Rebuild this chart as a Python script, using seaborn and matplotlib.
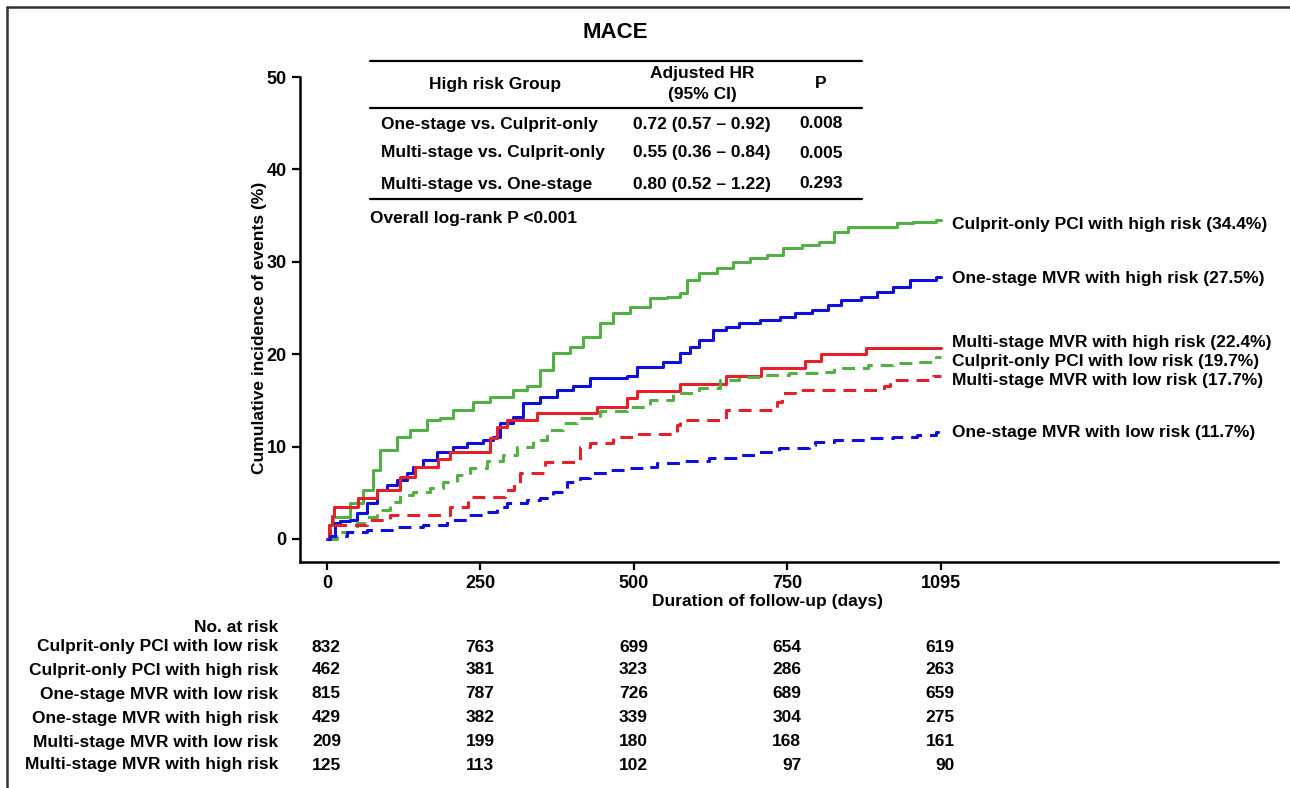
import numpy as np
import pandas as pd
import seaborn as sns
import matplotlib.pyplot as plt
import matplotlib.transforms as mtransforms
from matplotlib.lines import Line2D

# Curves: day of step, cumulative incidence (%) after step
cop_high_days = [0, 5, 10, 37, 59, 75, 86, 114, 135, 163, 184, 205, 238, 265, 303, 326, 347,
                 368, 396, 417, 445, 466, 494, 526, 554, 575, 586, 607, 635, 661, 689, 717,
                 743, 783, 821, 856, 887, 997, 1032, 1085, 1095]
cop_high_pct = [0, 1.5, 2.4, 3.9, 5.3, 7.5, 9.6, 11.0, 11.8, 12.9, 13.1, 14.0, 14.8, 15.4, 16.1,
                16.5, 18.3, 20.1, 20.8, 21.9, 23.4, 24.5, 25.1, 26.1, 26.2, 26.6, 28.0, 28.8,
                29.3, 30.0, 30.4, 30.7, 31.5, 31.8, 32.1, 33.2, 33.8, 34.2, 34.3, 34.5, 34.5]

one_high_days = [0, 5, 13, 21, 37, 49, 65, 81, 98, 114, 130, 140, 156, 179, 205, 228, 254, 270,
                 282, 303, 319, 347, 375, 401, 429, 489, 505, 547, 575, 591, 607, 629, 651, 672,
                 705, 738, 768, 805, 842, 871, 915, 953, 988, 1026, 1085, 1095]
one_high_pct = [0, 0.2, 1.7, 1.9, 2.1, 2.8, 3.9, 5.3, 5.8, 6.4, 7.1, 7.8, 8.5, 9.4, 10.0, 10.4,
                10.7, 11.0, 12.6, 13.2, 14.7, 15.4, 16.1, 16.5, 17.4, 17.6, 18.6, 19.2, 20.1,
                20.8, 21.5, 22.6, 22.9, 23.4, 23.7, 24.0, 24.5, 24.8, 25.3, 25.9, 26.2, 26.7,
                27.3, 28.0, 28.4, 28.4]

multi_high_days = [0, 4, 8, 12, 51, 81, 119, 143, 181, 200, 265, 277, 293, 342, 440, 489, 505,
                   575, 651, 708, 790, 827, 927, 1095]
multi_high_pct = [0, 1.5, 2.5, 3.4, 4.4, 5.3, 6.7, 7.8, 8.7, 9.4, 10.9, 12.1, 12.9, 13.6, 14.3,
                  15.2, 16.0, 16.8, 17.6, 18.5, 19.3, 20.0, 20.7, 20.7]

cop_low_days = [0, 16, 49, 65, 81, 103, 119, 140, 168, 189, 212, 233, 261, 287, 310, 336, 358,
                384, 407, 445, 489, 526, 564, 607, 640, 672, 717, 754, 830, 856, 931, 988, 1041,
                1085, 1095]
cop_low_pct = [0, 0.8, 1.7, 2.4, 3.1, 4.0, 4.7, 5.1, 5.5, 6.2, 6.9, 7.7, 8.4, 9.1, 10.0, 10.7,
               11.8, 12.6, 13.1, 13.8, 14.3, 15.0, 15.8, 16.3, 17.2, 17.5, 17.7, 18.0, 18.1,
               18.5, 18.8, 19.0, 19.2, 19.7, 19.7]

multi_low_days = [0, 5, 10, 65, 103, 200, 230, 290, 305, 314, 355, 412, 429, 466, 505, 570, 575,
                  651, 733, 741, 768, 967, 982, 1077, 1095]
multi_low_pct = [0, 1.3, 1.5, 2.1, 2.6, 3.5, 4.5, 5.3, 6.1, 7.1, 8.3, 10.0, 10.4, 11.0, 11.4,
                 12.3, 12.9, 13.9, 14.8, 15.8, 16.1, 16.5, 17.2, 17.6, 17.6]

one_low_days = [0, 5, 33, 65, 114, 156, 195, 228, 261, 277, 293, 326, 347, 368, 391, 412, 429,
                456, 489, 515, 538, 580, 622, 672, 700, 736, 799, 812, 856, 931, 988, 1041,
                1085, 1095]
one_low_pct = [0, 0.3, 0.7, 1.0, 1.3, 1.5, 2.1, 2.6, 2.9, 3.5, 3.9, 4.2, 4.4, 5.1, 6.2, 6.6, 7.1,
               7.5, 7.7, 7.8, 8.2, 8.4, 8.8, 9.1, 9.4, 9.8, 10.2, 10.5, 10.7, 10.9, 11.0, 11.3,
               11.6, 11.6]

curve_labels = ["Culprit-only PCI with high risk (34.4%)",
                "One-stage MVR with high risk (27.5%)",
                "Multi-stage MVR with high risk (22.4%)",
                "Culprit-only PCI with low risk (19.7%)",
                "Multi-stage MVR with low risk (17.7%)",
                "One-stage MVR with low risk (11.7%)"]
label_y_px = [224, 279, 342, 361, 380, 433]

# HR table
hr_header = ["High risk Group", "Adjusted HR\n(95% CI)", "P"]
hr_rows = ["One-stage vs. Culprit-only", "Multi-stage vs. Culprit-only", "Multi-stage vs. One-stage"]
hr_values = ["0.72 (0.57 \u2013 0.92)", "0.55 (0.36 \u2013 0.84)", "0.80 (0.52 \u2013 1.22)"]
hr_p = ["0.008", "0.005", "0.293"]

# numbers at risk
risk_days = [0, 250, 500, 750, 1095]
risk_groups = ["Culprit-only PCI with low risk", "Culprit-only PCI with high risk",
               "One-stage MVR with low risk", "One-stage MVR with high risk",
               "Multi-stage MVR with low risk", "Multi-stage MVR with high risk"]
risk_counts = [[832, 763, 699, 654, 619],
               [462, 381, 323, 286, 263],
               [815, 787, 726, 689, 659],
               [429, 382, 339, 304, 275],
               [209, 199, 180, 168, 161],
               [125, 113, 102, 97, 90]]

W, H = 1290, 788

sns.set_style("ticks")
plt.rcParams['font.family'] = ['Liberation Sans', 'DejaVu Sans']
plt.rcParams['font.weight'] = 'bold'
plt.rcParams['axes.labelweight'] = 'bold'
for key in ['text.color', 'axes.labelcolor', 'xtick.color', 'ytick.color', 'axes.edgecolor']:
    plt.rcParams[key] = 'black'

series = [(cop_high_days, cop_high_pct), (one_high_days, one_high_pct),
          (multi_high_days, multi_high_pct), (cop_low_days, cop_low_pct),
          (multi_low_days, multi_low_pct), (one_low_days, one_low_pct)]
frames = []
for name, (d, p) in zip(curve_labels, series):
    frames.append(pd.DataFrame({'day': d, 'pct': p, 'group': name}))
df = pd.concat(frames, ignore_index=True)

green, blue, red = '#52b047', '#0f0fdc', '#e4202a'
palette = dict(zip(curve_labels, [green, blue, red, green, red, blue]))
dash = (4.2, 2.6)
dashes = dict(zip(curve_labels, ['', '', '', dash, dash, dash]))

fig = plt.figure(figsize=(W / 100, H / 100), dpi=100)
ax = fig.add_axes([300 / W, 1 - 562 / H, 978 / W, 485 / H])

sns.lineplot(data=df, x='day', y='pct', hue='group', style='group', hue_order=curve_labels,
             palette=palette, dashes=dashes, drawstyle='steps-post', estimator=None,
             sort=False, legend=False, linewidth=2.2, ax=ax)


# last interval (750-1095 days) is drawn compressed in the original
def fwd(x):
    x = np.asarray(x, dtype=float)
    return np.where(x <= 750, x, 750 + (x - 750) * 250 / 345)


def inv(p):
    p = np.asarray(p, dtype=float)
    return np.where(p <= 750, p, 750 + (p - 750) * 345 / 250)


ax.set_xscale('function', functions=(fwd, inv))
ax.set_xlim(-44, 1854)
ax.set_ylim(-2.5, 50)
ax.set_xticks(risk_days)
ax.set_xticklabels([str(d) for d in risk_days])
ax.set_yticks([0, 10, 20, 30, 40, 50])
ax.tick_params(axis='both', width=1.6, length=6, labelsize=13, color='black')
for s in ['left', 'bottom']:
    ax.spines[s].set_linewidth(1.8)
    ax.spines[s].set_color('black')
ax.spines[['top', 'right']].set_visible(False)

ax.set_xlabel("Duration of follow-up (days)", fontsize=12.5)
ax.xaxis.set_label_coords((768 - 300) / 978, -0.066)
ax.set_ylabel("Cumulative incidence of events (%)", fontsize=12.5)
ax.yaxis.set_label_coords(-0.034, (562 - 328) / 485)


def ftext(x, y, s, **kw):
    kw.setdefault('va', 'center')
    kw.setdefault('fontsize', 12.5)
    fig.text(x / W, 1 - y / H, s, **kw)


def fline(x0, x1, y, lw=1.6):
    fig.add_artist(Line2D([x0 / W, x1 / W], [1 - y / H, 1 - y / H],
                          transform=fig.transFigure, color='black', lw=lw))


ftext(615, 33, "MACE", ha='center', fontsize=16)

# HR table
fline(370, 862, 61)
fline(370, 862, 108)
fline(370, 862, 199)
ftext(495, 84, hr_header[0], ha='center')
ftext(702, 84, hr_header[1], ha='center', linespacing=1.45, multialignment='center')
ftext(821, 84, hr_header[2], ha='center')
for y, r, v, p in zip([124, 153, 184], hr_rows, hr_values, hr_p):
    ftext(381, y, r, ha='left')
    ftext(702, y, v, ha='center')
    ftext(821, y, p, ha='center')
ftext(370, 218, "Overall log-rank P <0.001", ha='left')

# curve labels on the right
for y, lab in zip(label_y_px, curve_labels):
    ftext(952, y, lab, ha='left')

# numbers at risk
ftext(278, 627, "No. at risk", ha='right')
blend = mtransforms.blended_transform_factory(ax.transData, fig.transFigure)
shift = blend + mtransforms.ScaledTranslation(14 / 100, 0, fig.dpi_scale_trans)
row_y = [647, 670, 694, 718, 742, 765]
for y, grp, counts in zip(row_y, risk_groups, risk_counts):
    ftext(278, y, grp, ha='right')
    for d, n in zip(risk_days, counts):
        ax.text(d, 1 - y / H, str(n), transform=shift, ha='right', va='center',
                fontsize=12.5, clip_on=False)

# outer frame (top and left edges)
fig.add_artist(Line2D([7 / W, 1], [1 - 7 / H, 1 - 7 / H], transform=fig.transFigure,
                      color='#333333', lw=1.8))
fig.add_artist(Line2D([7 / W, 7 / W], [0, 1 - 7 / H], transform=fig.transFigure,
                      color='#333333', lw=1.8))

fig.savefig('out.png', dpi=100)
